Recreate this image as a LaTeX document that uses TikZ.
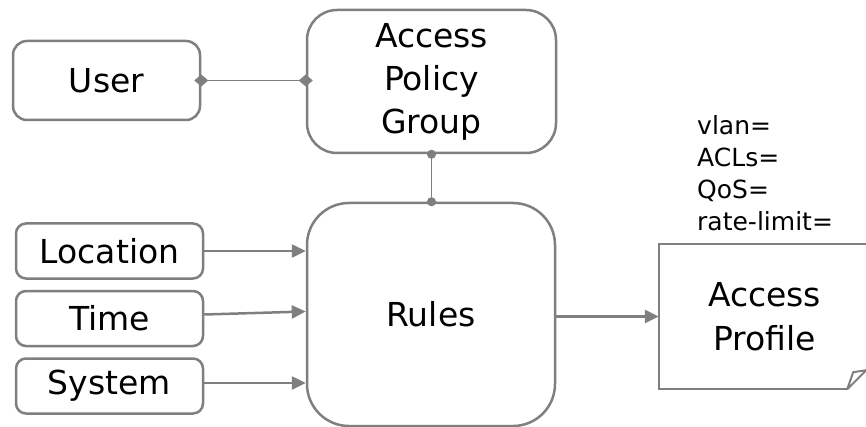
\documentclass[tikz,border=0pt]{standalone}
\usepackage{fontspec}
\setmainfont{DejaVu Sans}
\usepackage{xcolor}
\usetikzlibrary{arrows.meta,positioning}
\definecolor{linegray}{HTML}{7F7F7F}

\begin{document}
\begin{tikzpicture}[x=1pt, y=-1pt,
  block/.style={rectangle, draw=linegray, line width=2.5pt, fill=white, text=black, align=center, font=\fontsize{33}{43}\selectfont},
  side/.style={block, minimum width=187pt, minimum height=55pt, rounded corners=10pt},
  line/.style={draw=linegray, line width=2.5pt, -{Triangle[length=14pt,width=13pt]}},
  link/.style={draw=linegray, line width=1.5pt}]

  \useasboundingbox (0,0) rectangle (866,427);
  \clip (0,0) rectangle (866,427);

  \node [block, minimum width=187pt, minimum height=79pt, rounded corners=14pt] (user) at (106.5,80.5) {User};
  \node [block, minimum width=249pt, minimum height=143pt, rounded corners=30pt] (group) at (431.5,81.5) {Access\\Policy\\Group};
  \node [block, minimum width=248pt, minimum height=223pt, rounded corners=42pt] (rules) at (431,314.5) {Rules};
  \node [side] (location) at (109.5,251) {Location};
  \node [side, below=10pt of location] (time) {Time};
  \node [side, below=10pt of time] (system) {System};
  \node [minimum width=211pt, minimum height=145pt, align=center, font=\fontsize{33}{44}\selectfont] (profile) at (764.5,316.5) {Access\\Profile};
  \node [anchor=north west, inner sep=0pt, align=left, font=\fontsize{25}{32}\selectfont] (attrs) at (697,115) {vlan=\\ACLs=\\QoS=\\rate-limit=};

  \draw [draw=linegray, line width=2.5pt] ([xshift=-23pt]profile.south east) -- (profile.south west) -- (profile.north west) -- (profile.north east);
  \draw [draw=linegray, line width=2pt, line join=round] ([xshift=-23pt]profile.south east) -- ([xshift=-17pt,yshift=17pt]profile.south east) -- ([xshift=-4pt,yshift=19pt]profile.south east) -- cycle;

  \draw [link, {Diamond[length=14pt,width=12pt]}-{Diamond[length=14pt,width=12pt]}, shorten <=-7pt, shorten >=-7pt] (user.east) -- (user.east -| group.west);
  \draw [link, {Circle[length=9pt]}-{Circle[length=9pt]}, shorten <=-4.5pt, shorten >=-4.5pt] (group.south) -- (group.south |- rules.north);

  \draw [line] (location.east) -- (location.east -| rules.west);
  \draw [line] ([yshift=4pt]time.east) -- ([yshift=7pt]time.east -| rules.west);
  \draw [line] ([yshift=3pt]system.east) -- ([yshift=3pt]system.east -| rules.west);
  \draw [line] (rules.east |- profile.west) -- (profile.west);
\end{tikzpicture}
\end{document}
